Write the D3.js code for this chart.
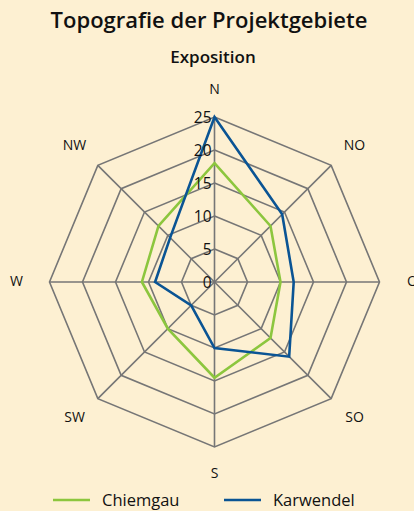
<!DOCTYPE html>
<html>
<head>
<meta charset="utf-8">
<script src="https://cdn.jsdelivr.net/npm/d3@7"></script>
<style>
  html, body { margin: 0; padding: 0; background: #fdf0d2; }
  svg { display: block; font-family: "Open Sans", "Noto Sans", sans-serif; }
</style>
</head>
<body>
<svg id="chart" width="414" height="511"></svg>
<script>
var directions = ["N", "NO", "O", "SO", "S", "SW", "W", "NW"];
var ticks = [0, 5, 10, 15, 20, 25];
var chiemgau = [18, 12, 10, 12, 14.5, 10, 11, 12];
var karwendel = [25, 14.5, 12, 16, 10, 5, 9, 9.5];
var seriesNames = ["Chiemgau", "Karwendel"];
var seriesColors = ["#8cc63e", "#0a5494"];

var svg = d3.select("#chart"),
  cx = 214.5,
  cy = 282,
  gridColor = "#767676";

var r = d3.scaleLinear().domain([0, 25]).range([0, 165]);
var angle = d3.scalePoint().domain(directions).range([0, 2 * Math.PI * 7 / 8]);

var g = svg.append("g").attr("transform", "translate(" + cx + "," + cy + ")");

// title
svg.append("text")
  .attr("x", 209).attr("y", 28)
  .attr("text-anchor", "middle")
  .attr("font-size", 22).attr("font-weight", 600)
  .attr("fill", "#111")
  .text("Topografie der Projektgebiete");

svg.append("text")
  .attr("x", 213).attr("y", 63)
  .attr("text-anchor", "middle")
  .attr("font-size", 17).attr("font-weight", 600)
  .attr("fill", "#111")
  .text("Exposition");

// grid rings
var ring = d3.lineRadial()
  .curve(d3.curveLinearClosed)
  .angle(function(d) { return angle(d); });

g.append("g")
  .selectAll("path")
  .data(ticks.slice(1))
  .enter().append("path")
    .attr("d", function(t) { return ring.radius(r(t))(directions); })
    .attr("fill", "none")
    .attr("stroke", gridColor)
    .attr("stroke-width", 1.6);

// spokes
g.append("g")
  .selectAll("line")
  .data(directions)
  .enter().append("line")
    .attr("x1", 0).attr("y1", 0)
    .attr("x2", function(d) { return Math.sin(angle(d)) * r(25); })
    .attr("y2", function(d) { return -Math.cos(angle(d)) * r(25); })
    .attr("stroke", gridColor)
    .attr("stroke-width", 1.6);

// series
var line = d3.lineRadial()
  .curve(d3.curveLinearClosed)
  .angle(function(d, i) { return angle(directions[i]); })
  .radius(function(d) { return r(d); });

g.append("g")
  .selectAll("path")
  .data([chiemgau, karwendel])
  .enter().append("path")
    .attr("d", line)
    .attr("fill", "none")
    .attr("stroke", function(d, i) { return seriesColors[i]; })
    .attr("stroke-width", 2.6)
    .attr("stroke-linejoin", "miter");

// tick labels
g.append("g")
  .selectAll("text")
  .data(ticks)
  .enter().append("text")
    .attr("x", -3)
    .attr("y", function(t) { return -r(t); })
    .attr("dy", "0.36em")
    .attr("text-anchor", "end")
    .attr("font-size", 15.5)
    .attr("fill", "#111")
    .text(function(t) { return t; });

// direction labels
g.append("g")
  .selectAll("text")
  .data(directions)
  .enter().append("text")
    .attr("x", function(d) { return Math.sin(angle(d)) * 198; })
    .attr("y", function(d) { return -Math.cos(angle(d)) * 192; })
    .attr("dy", "0.3em")
    .attr("text-anchor", "middle")
    .attr("font-size", 14)
    .attr("fill", "#111")
    .text(function(d) { return d; });

// legend
var legend = svg.append("g")
  .selectAll("g")
  .data(seriesNames)
  .enter().append("g")
    .attr("transform", function(d, i) { return "translate(" + (53 + i * 171) + ",500)"; });

legend.append("line")
  .attr("x1", 0).attr("x2", 37)
  .attr("stroke", function(d, i) { return seriesColors[i]; })
  .attr("stroke-width", 2.6);

legend.append("text")
  .attr("x", 49).attr("y", 0)
  .attr("dy", "0.36em")
  .attr("font-size", 16.5)
  .attr("fill", "#111")
  .text(function(d) { return d; });
</script>
</body>
</html>
